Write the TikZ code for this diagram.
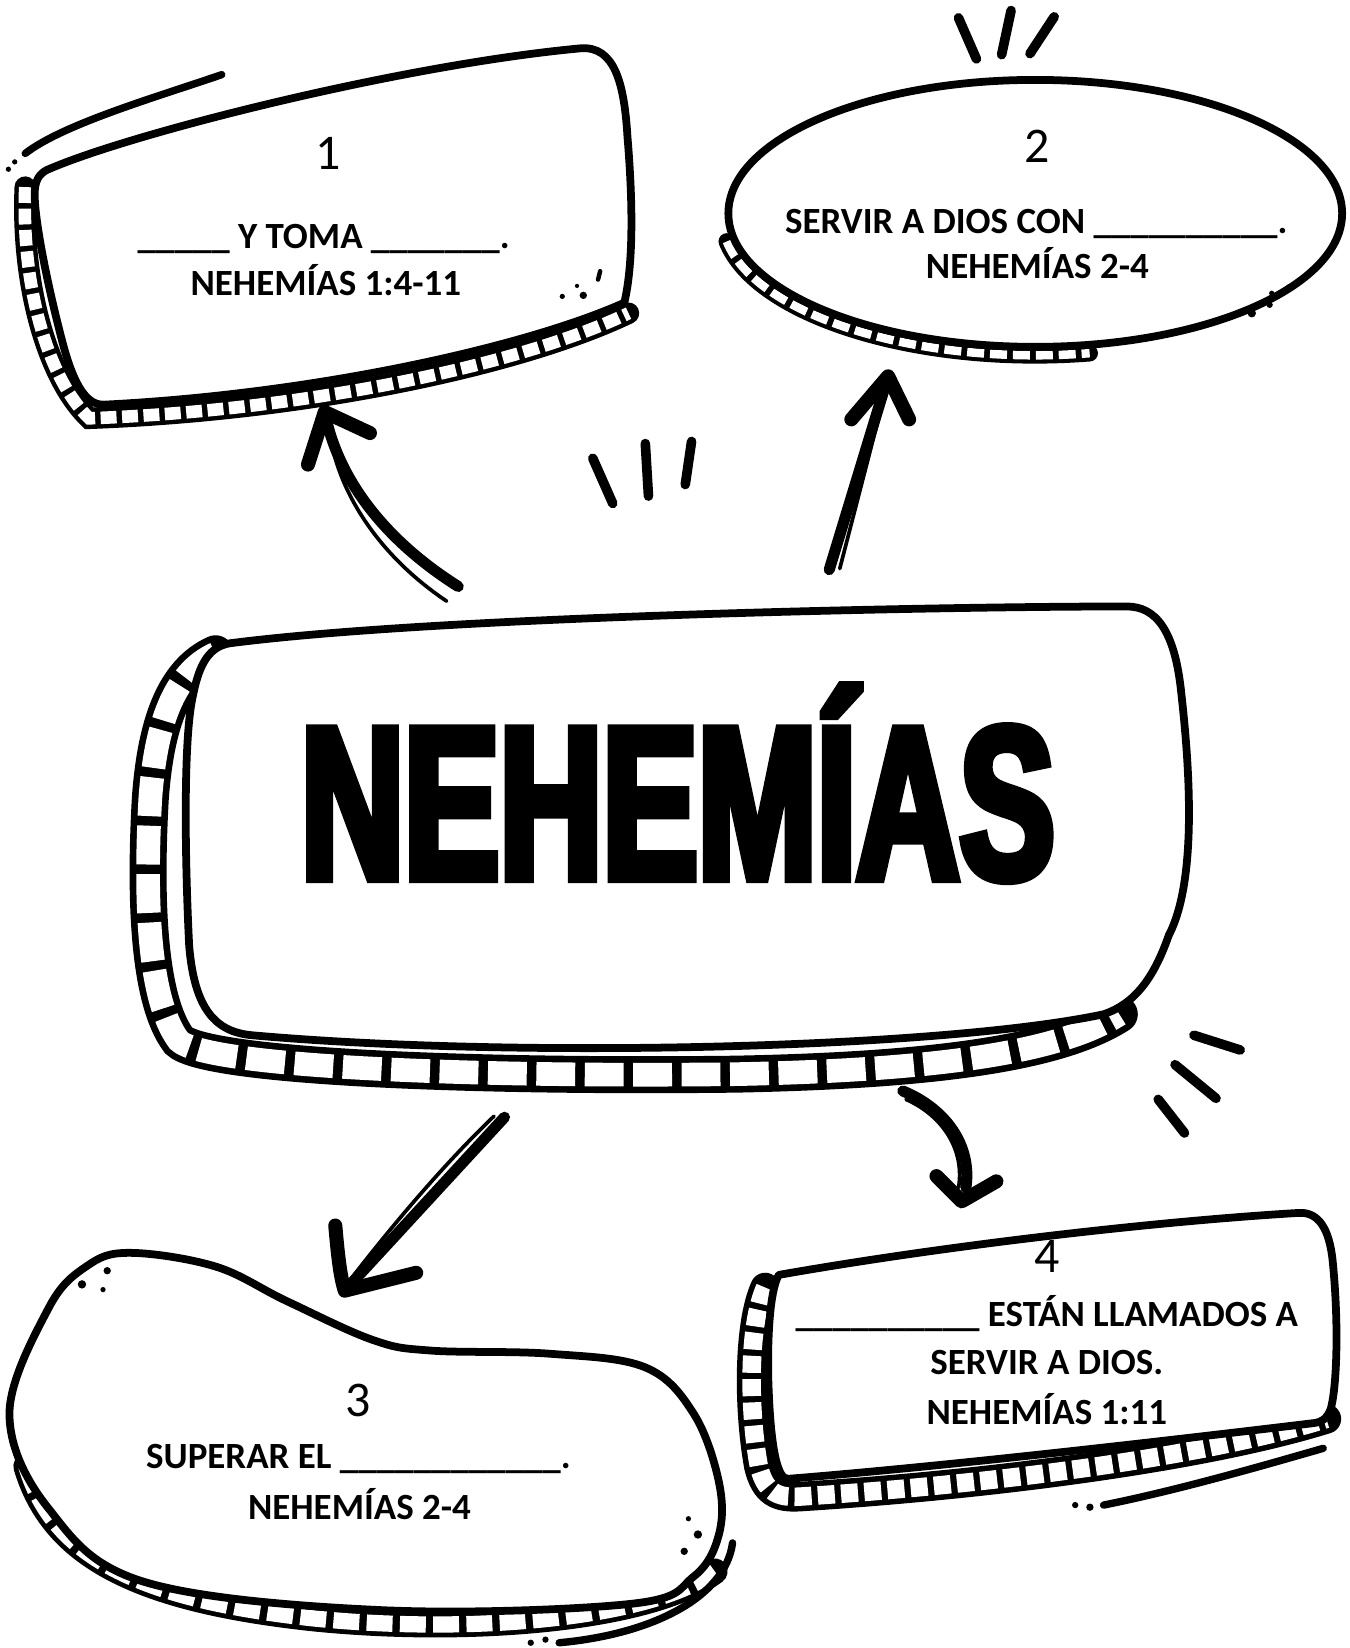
\documentclass[tikz,border=0pt]{standalone}
\usepackage{fontspec}
\setmainfont{Carlito}
\newfontfamily\titlefont{Liberation Sans}[FakeStretch=0.655,FakeBold=4]
\usepackage{tikz}
\def\ladder[#1,#2,#3,#4]#5;{\draw[line width=#1,line cap=round] #5; \draw[white,line width=#2,dash pattern=on #3 off #4] #5;}

\begin{document}
\begin{tikzpicture}[x=0.01cm,y=-0.01cm,
    rim/.style={line width=2.1pt,line join=round,fill=white},
    spark/.style={line width=2.6pt,line cap=round},
    shaft/.style={line width=3pt,line cap=round},
    thin/.style={line width=1pt,line cap=round},
    head/.style={line width=3.8pt,line cap=round,line join=round},
    words/.style={anchor=base,font=\fontsize{10}{12}\selectfont\bfseries},
    num/.style={anchor=base,font=\fontsize{13.5}{14}\selectfont}]
    \useasboundingbox (0,0) rectangle (1284,1568);

    %%% Box 1 %%%
    \ladder[5.8pt,3.4pt,4.3pt,1.5pt] (24,178) .. controls (20,270) and (45,360) .. (85,398) .. controls (300,390) and (500,345) .. (598,298);
    \filldraw[rim] (44,162) .. controls (120,128) and (380,62) .. (552,46) .. controls (585,43) and (594,80) .. (597,130) .. controls (602,190) and (603,250) .. (594,288) .. controls (500,330) and (300,375) .. (99,385) .. controls (80,386) and (68,360) .. (58,320) .. controls (45,270) and (33,210) .. (33,185) .. controls (33,172) and (37,166) .. (44,162) -- cycle;
    \draw[line width=2pt,line cap=round] (24,146) .. controls (60,118) and (150,92) .. (211,71);
    \fill (8,161) circle (2.5) (14,154) circle (2.5);
    \fill (535,282) circle (2.5) (555,281) circle (3.5) (549,272) circle (2);
    \draw[line width=1.2pt,line cap=round] (571,258) -- (569,266);
    \node[num] (n1) at (312,161) {1};
    \node[words] (t1a) at (308,236) {\_\_\_\_\_ Y TOMA \_\_\_\_\_\_\_.};
    \node[words] (t1b) at (310,281) {NEHEMÍAS 1:4-11};

    %%% Box 2 %%%
    \ladder[4.5pt,2.3pt,4.6pt,1.6pt] (985,207) ++(170:298 and 131) arc[start angle=170,end angle=80,x radius=298,y radius=131];
    \filldraw[rim] (985,203) ellipse [x radius=292,y radius=127];
    \fill (1191,298) circle (4) (1208,290) circle (3) (1210,279) circle (2.5) (1226,273) circle (2.5);
    \node[num] (n2) at (987,155) {2};
    \node[words] (t2a) at (986,222) {SERVIR A DIOS CON \_\_\_\_\_\_\_\_\_\_.};
    \node[words] (t2b) at (987,265) {NEHEMÍAS 2-4};

    %%% Centre %%%
    \ladder[10pt,6.4pt,10.5pt,2.6pt] (205,622) .. controls (165,640) and (148,690) .. (143,760) .. controls (138,850) and (140,950) .. (170,990) .. controls (195,1015) and (450,1025) .. (700,1022) .. controls (900,1018) and (1010,1000) .. (1065,965);
    \filldraw[rim] (219,612) .. controls (420,586) and (900,577) .. (1072,577) .. controls (1100,577) and (1118,600) .. (1124,660) .. controls (1133,740) and (1138,840) .. (1112,890) .. controls (1098,930) and (1080,955) .. (1050,965) .. controls (900,997) and (500,1008) .. (240,985) .. controls (205,982) and (185,960) .. (180,900) .. controls (176,820) and (174,700) .. (184,660) .. controls (190,630) and (200,615) .. (219,612) -- cycle;
    \node[anchor=base,font={\fontsize{59}{59}\titlefont\bfseries}] (title) at (645,836) {NEHEMÍAS};

    %%% Box 3 %%%
    \ladder[7pt,4.4pt,7pt,2pt] (25,1395) .. controls (50,1480) and (130,1522) .. (300,1540) .. controls (450,1555) and (620,1540) .. (680,1495);
    \filldraw[rim] plot[smooth cycle,tension=0.6] coordinates {(123,1192) (205,1205) (273,1238) (355,1275) (410,1285) (523,1288) (614,1301) (660,1345) (684,1410) (684,1460) (660,1500) (600,1526) (364,1532) (137,1505) (46,1435) (9,1345) (46,1245) (82,1205)};
    \draw[line width=2pt,line cap=round] (532,1563) .. controls (620,1555) and (690,1520) .. (697,1468);
    \fill (505,1563) circle (3) (519,1560) circle (3);
    \fill (78,1222) circle (4) (102,1209) circle (3.5) (98,1227) circle (2.5);
    \fill (655,1445) circle (2.5) (664,1460) circle (4) (651,1476) circle (3.5);
    \node[num] (n3) at (341,1348) {3};
    \node[words] (t3a) at (341,1397) {SUPERAR EL \_\_\_\_\_\_\_\_\_\_\_\_.};
    \node[words] (t3b) at (342,1446) {NEHEMÍAS 2-4};

    %%% Box 4 %%%
    \ladder[8pt,5pt,4.6pt,1.7pt] (728,1225) .. controls (712,1260) and (712,1340) .. (722,1395) .. controls (728,1420) and (740,1425) .. (760,1424) .. controls (950,1412) and (1150,1385) .. (1262,1350);
    \filldraw[rim] (741,1213) .. controls (900,1185) and (1100,1162) .. (1236,1154) .. controls (1255,1153) and (1265,1170) .. (1268,1200) .. controls (1274,1260) and (1272,1320) .. (1266,1341) .. controls (1262,1350) and (1258,1353) .. (1250,1354) .. controls (1100,1372) and (900,1395) .. (750,1407) .. controls (740,1408) and (733,1380) .. (731,1312) .. controls (730,1260) and (734,1225) .. (741,1213) -- cycle;
    \draw[line width=2pt,line cap=round] (1050,1432) .. controls (1120,1418) and (1200,1395) .. (1259,1378);
    \fill (1023,1432) circle (3) (1037,1434) circle (3.5);
    \node[num] (n4) at (996,1211) {4};
    \node[words] (t4a) at (996,1262) {\_\_\_\_\_\_\_\_\_\_ ESTÁN LLAMADOS A};
    \node[words] (t4b) at (996,1308) {SERVIR A DIOS.};
    \node[words] (t4c) at (996,1355) {NEHEMÍAS 1:11};

    %%% Arrows %%%
    \coordinate (a1s) at (436,558); \coordinate (a1e) at (309,392);
    \draw[shaft] (a1s) .. controls (360,510) and (320,450) .. (a1e);
    \draw[thin] (425,572) .. controls (355,525) and (318,460) .. (313,405);
    \draw[head] (293,442) -- (a1e) -- (352,412);

    \coordinate (a2s) at (789,542); \coordinate (a2e) at (845,358);
    \draw[shaft] (a2s) -- (a2e);
    \draw[thin] (799,541) -- (838,390);
    \draw[head] (810,399) -- (a2e) -- (865,399);

    \coordinate (a3s) at (480,1063); \coordinate (a3e) at (328,1228);
    \draw[shaft] (a3s) -- (a3e);
    \draw[thin] (470,1062) .. controls (420,1110) and (370,1170) .. (333,1218);
    \draw[head] (319,1166) .. controls (322,1200) and (324,1215) .. (a3e) -- (396,1211);

    \coordinate (a4s) at (859,1038); \coordinate (a4e) at (915,1143);
    \draw[shaft] (a4s) .. controls (900,1055) and (925,1090) .. (919,1130);
    \draw[thin] (862,1046) .. controls (898,1062) and (918,1095) .. (912,1130);
    \draw[head] (891,1119) -- (a4e) -- (948,1124);

    %%% Sparks %%%
    \foreach \a/\b in {{(912,17)}/{(929,56)},{(962,10)}/{(953,52)},{(1003,16)}/{(980,51)},{(564,436)}/{(583,479)},{(614,422)}/{(617,472)},{(658,420)}/{(652,461)},{(1118,1013)}/{(1157,1045)},{(1102,1046)}/{(1127,1078)},{(1136,985)}/{(1180,999)}}
        \draw[spark] \a -- \b;
\end{tikzpicture}
\end{document}
